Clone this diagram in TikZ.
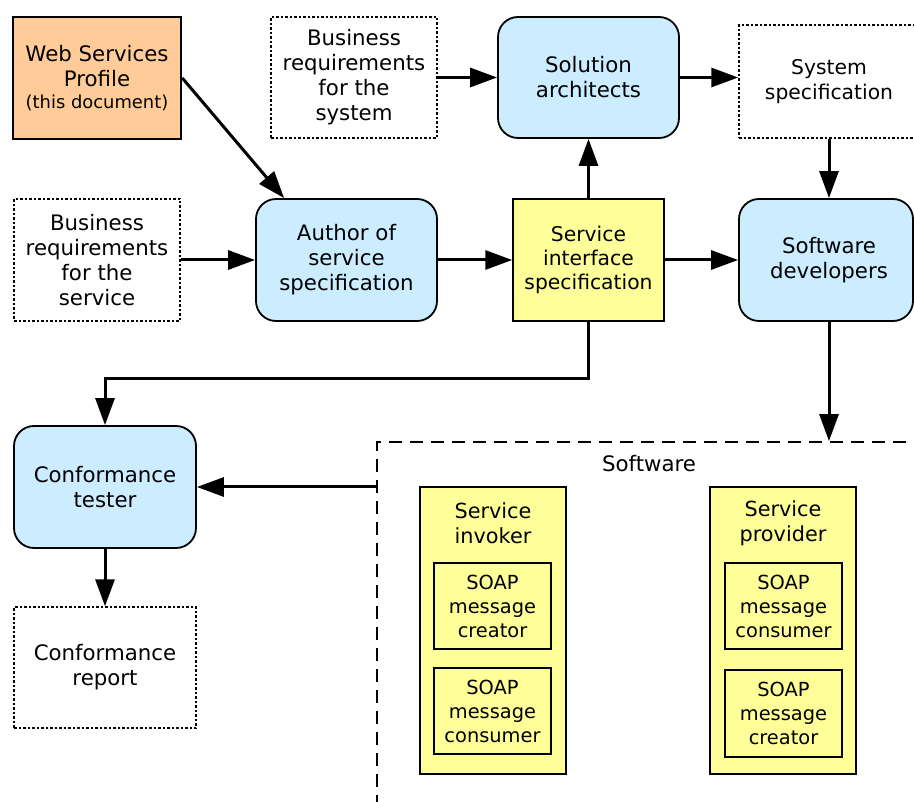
\documentclass[tikz,border=0pt]{standalone}
\usepackage{fontspec}
\setmainfont{DejaVu Sans}
\usetikzlibrary{arrows.meta,calc}
\definecolor{orangefill}{HTML}{FFCC99}
\definecolor{bluefill}{HTML}{CCECFF}
\definecolor{yellowfill}{HTML}{FFFF99}
\begin{document}
\begin{tikzpicture}[x=1pt,y=-1pt,
  base/.style={rectangle,align=center,inner sep=0pt,font=\fontsize{21.3}{25}\selectfont},
  orangebox/.style={base,draw,fill=orangefill,line width=2.5pt},
  dotbox/.style={base,draw,line width=1.4pt,dash pattern=on 2.5pt off 2pt},
  bluebox/.style={base,draw,fill=bluefill,line width=1.8pt,rounded corners=20pt},
  yellowbox/.style={base,draw,fill=yellowfill,line width=1.5pt},
  innerbox/.style={base,draw,fill=yellowfill,line width=1.8pt,font=\fontsize{19.4}{24}\selectfont},
  swbox/.style={rectangle,draw,line width=1.8pt,dash pattern=on 13pt off 8pt},
  arr/.style={line width=3pt,-{Triangle[length=27pt,width=19pt]}}
]
\useasboundingbox (0,0) rectangle (914,802);
\clip (0,0) rectangle (914,802);
\fill[white] (0,0) rectangle (914,802);

% top row
\node[orangebox,minimum width=168pt,minimum height=122pt] (wsp) at (97,78)
  {Web Services\\Profile\\[-3pt]{\fontsize{17.9}{21}\selectfont (this document)}};
\node[dotbox,minimum width=166pt,minimum height=121pt] (brsys) at (354,77.5)
  {Business\\requirements\\for the\\system};
\node[bluebox,minimum width=181pt,minimum height=121pt] (solarch) at (588.5,77.5)
  {Solution\\architects};
\node[dotbox,minimum width=180pt,minimum height=113pt,font=\fontsize{20.3}{25}\selectfont] (sysspec) at (829,81.5)
  {System\\specification};

% middle row
\node[dotbox,minimum width=166pt,minimum height=122pt] (brsvc) at (97,260)
  {Business\\requirements\\for the\\service};
\node[bluebox,minimum width=181pt,minimum height=122pt] (author) at (346.5,260)
  {Author of\\service\\specification};
\node[yellowbox,minimum width=151pt,minimum height=122pt,font=\fontsize{20.3}{24}\selectfont] (sis) at (588.5,260)
  {Service\\interface\\specification};
\node[bluebox,minimum width=174pt,minimum height=122pt] (softdev) at (826,260)
  {\hspace*{6pt}Software\\\hspace*{6pt}developers};

% lower left
\node[bluebox,minimum width=182pt,minimum height=122pt] (tester) at (105,487)
  {Conformance\\tester};
\node[dotbox,minimum width=182pt,minimum height=121pt] (report) at (105,667.5)
  {Conformance\\report};

% software area
\node[swbox,minimum width=553pt,minimum height=368pt] (sw) at (653.5,626) {};
\node[base] (swlabel) at (649,464) {Software};

\node[yellowbox,minimum width=146pt,minimum height=287pt] (invoker) at (493,630.5) {};
\node[base,font=\fontsize{20.8}{25}\selectfont] (invtitle) at (493,523) {Service\\invoker};
\node[innerbox,minimum width=117pt,minimum height=86pt] (invcreator) at (492.5,606)
  {SOAP\\message\\creator};
\node[innerbox,minimum width=117pt,minimum height=86pt] (invconsumer) at (492.5,711)
  {SOAP\\message\\consumer};

\node[yellowbox,minimum width=146pt,minimum height=287pt] (provider) at (783,630.5) {};
\node[base,font=\fontsize{20.8}{25}\selectfont] (provtitle) at (783,523) {Service\\provider};
\node[innerbox,minimum width=117pt,minimum height=86pt] (provconsumer) at (783.5,606)
  {SOAP\\message\\consumer};
\node[innerbox,minimum width=117pt,minimum height=87pt] (provcreator) at (783.5,713.5)
  {SOAP\\message\\creator};

% connectors
\coordinate (lvl) at (0,379);
\draw[arr] (wsp.east) -- ([xshift=29pt]author.north west);
\draw[arr] (brsvc.east) -- (author.west);
\draw[arr] (author.east) -- (sis.west);
\draw[arr] (sis.east) -- (softdev.west);
\draw[arr] (sis.north) -- (solarch.south);
\draw[arr] (brsys.east) -- (solarch.west);
\draw[arr] (solarch.east) -- (solarch.east -| sysspec.west);
\draw[arr] (sysspec.south) -- (sysspec.south |- softdev.north);
\draw[arr] (softdev.south -| sysspec.south) -- (sysspec.south |- sw.north);
\draw[arr] (sis.south) -- (sis.south |- lvl) -| (tester.north);
\draw[arr] (sw.west |- tester.east) -- (tester.east);
\draw[arr] (tester.south) -- (report.north);
\end{tikzpicture}
\end{document}
